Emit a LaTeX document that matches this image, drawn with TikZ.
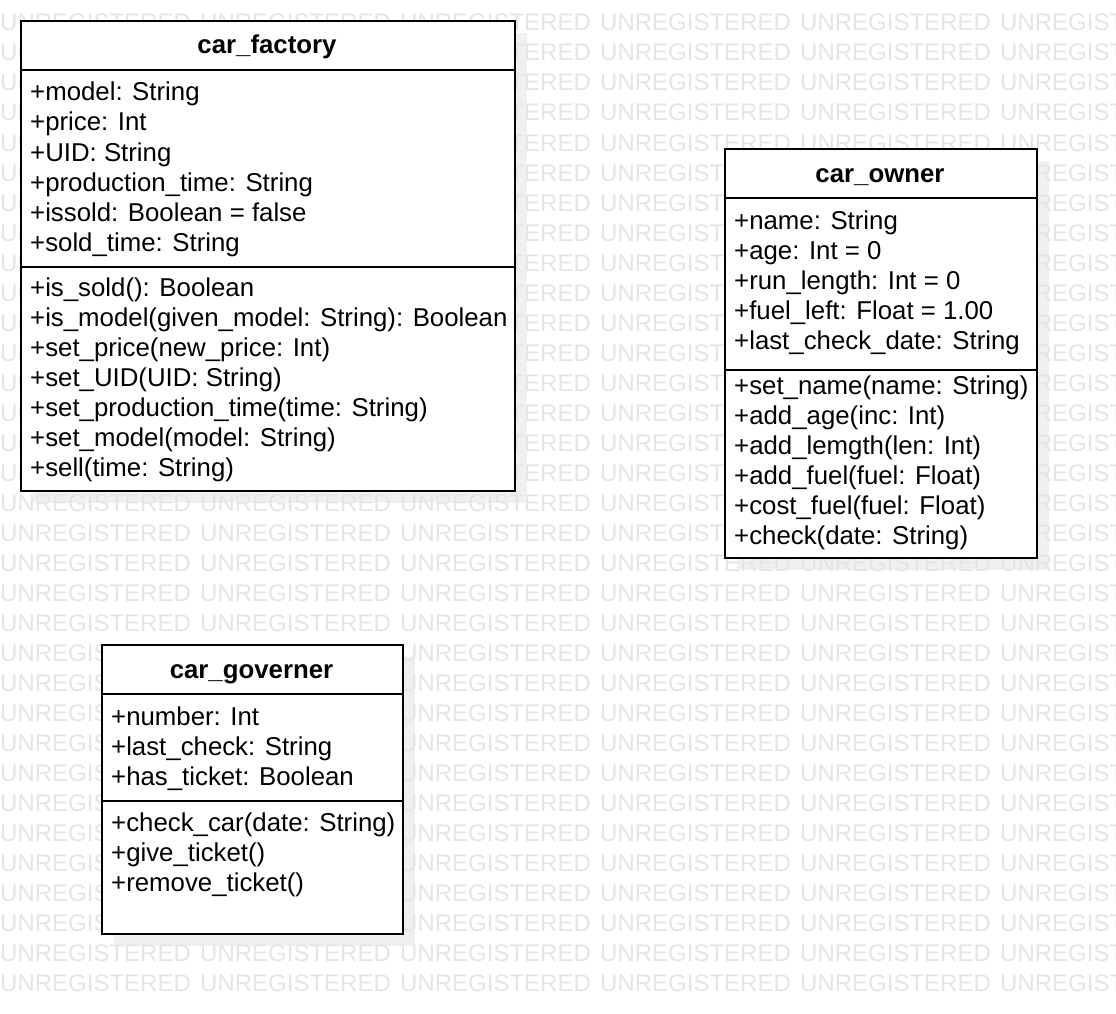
\documentclass[tikz,border=0pt]{standalone}
\usepackage{fontspec}
\setmainfont{Liberation Sans}
\begin{document}
\begin{tikzpicture}[x=1pt,y=-1pt,
  umlbox/.style={draw=black, line width=2pt, fill=white, inner sep=0pt, anchor=north west},
  shadowbox/.style={fill=black!6, draw=none},
  sepline/.style={draw=black, line width=2pt},
  item/.style={anchor=base west, inner sep=0pt, font=\fontsize{25.8}{30}\selectfont},
  title/.style={anchor=base, inner sep=0pt, font=\bfseries\fontsize{25.8}{30}\selectfont},
  wm/.style={anchor=base west, inner sep=0pt, text=black!10, font=\fontsize{24}{24}\selectfont}]
\useasboundingbox[fill=white] (0,0) rectangle (1116,1014);
% shadows
\fill[shadowbox] (33,33) rectangle (527,503);
\fill[shadowbox] (737,161) rectangle (1049,570);
\fill[shadowbox] (114,657) rectangle (415,946);
% watermark
\foreach \r in {0,...,32}{
  \foreach \c in {0,...,5}{
    \node[wm] (wm-\r-\c) at (200*\c, 31+30*\r) {UNREGISTERED};
  }
}
% car_factory
\node[umlbox, minimum width=494pt, minimum height=470pt] (factory) at (20,20) {};
\draw[sepline] (factory.west |- 0,70) -- (factory.east |- 0,70);
\draw[sepline] (factory.west |- 0,267) -- (factory.east |- 0,267);
\node[title] (factoryT) at (267,54) {car\_factory};
\node[item] (f1) at (30,101) {+model: String};
\node[item] (f2) at (30,131) {+price: Int};
\node[item] (f3) at (30,161) {+UID: String};
\node[item] (f4) at (30,191) {+production\_time: String};
\node[item] (f5) at (30,221) {+issold: Boolean = false};
\node[item] (f6) at (30,251) {+sold\_time: String};
\node[item] (fm1) at (30,296) {+is\_sold(): Boolean};
\node[item] (fm2) at (30,326) {+is\_model(given\_model: String): Boolean};
\node[item] (fm3) at (30,356) {+set\_price(new\_price: Int)};
\node[item] (fm4) at (30,386) {+set\_UID(UID: String)};
\node[item] (fm5) at (30,416) {+set\_production\_time(time: String)};
\node[item] (fm6) at (30,446) {+set\_model(model: String)};
\node[item] (fm7) at (30,476) {+sell(time: String)};
% car_owner
\node[umlbox, minimum width=312pt, minimum height=409pt] (owner) at (724,148) {};
\draw[sepline] (owner.west |- 0,198) -- (owner.east |- 0,198);
\draw[sepline] (owner.west |- 0,370) -- (owner.east |- 0,370);
\node[title] (ownerT) at (880,182) {car\_owner};
\node[item] (o1) at (734,229) {+name: String};
\node[item] (o2) at (734,259) {+age: Int = 0};
\node[item] (o3) at (734,289) {+run\_length: Int = 0};
\node[item] (o4) at (734,319) {+fuel\_left: Float = 1.00};
\node[item] (o5) at (734,349) {+last\_check\_date: String};
\node[item] (om1) at (734,394) {+set\_name(name: String)};
\node[item] (om2) at (734,424) {+add\_age(inc: Int)};
\node[item] (om3) at (734,454) {+add\_lemgth(len: Int)};
\node[item] (om4) at (734,484) {+add\_fuel(fuel: Float)};
\node[item] (om5) at (734,514) {+cost\_fuel(fuel: Float)};
\node[item] (om6) at (734,544) {+check(date: String)};
% car_governer
\node[umlbox, minimum width=301pt, minimum height=289pt] (gov) at (101,644) {};
\draw[sepline] (gov.west |- 0,694) -- (gov.east |- 0,694);
\draw[sepline] (gov.west |- 0,801) -- (gov.east |- 0,801);
\node[title] (govT) at (251.5,678) {car\_governer};
\node[item] (g1) at (111,725) {+number: Int};
\node[item] (g2) at (111,755) {+last\_check: String};
\node[item] (g3) at (111,785) {+has\_ticket: Boolean};
\node[item] (gm1) at (111,831) {+check\_car(date: String)};
\node[item] (gm2) at (111,861) {+give\_ticket()};
\node[item] (gm3) at (111,891) {+remove\_ticket()};
\end{tikzpicture}
\end{document}
